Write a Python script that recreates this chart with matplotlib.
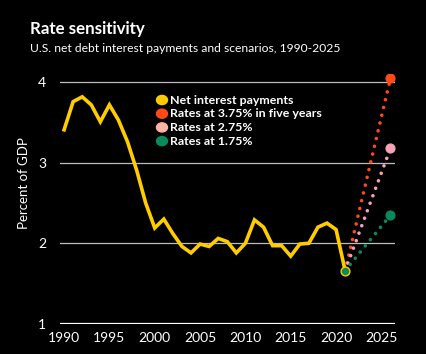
import matplotlib
matplotlib.use("Agg")
import matplotlib.pyplot as plt

# net interest payments, % of GDP
years = list(range(1990, 2022))
net_interest = [3.41, 3.76, 3.82, 3.72, 3.51, 3.72, 3.53, 3.26, 2.91, 2.50,
                2.19, 2.30, 2.12, 1.96, 1.88, 1.99, 1.96, 2.06, 2.02, 1.88,
                2.00, 2.29, 2.20, 1.97, 1.97, 1.84, 1.99, 2.00, 2.20, 2.25,
                2.17, 1.66]

scen_years = [2021, 2026]
scen_labels = ["Rates at 3.75% in five years", "Rates at 2.75%", "Rates at 1.75%"]
scen_values = [[1.66, 4.05], [1.66, 3.18], [1.66, 2.35]]
scen_colors = ["#ff4a17", "#f7a1b9", "#0a8a5c"]
legend_colors = ["#ffcc00", "#ff4a17", "#fbb3a3", "#0a8a5c"]

FONT = "Lato"
W, H = 426, 354
fig = plt.figure(figsize=(W / 100, H / 100), dpi=100, facecolor="black")
ax = fig.add_axes([60 / W, 1 - 323.7 / H, (395 - 60) / W, (323.7 - 74.3) / H])
ax.set_facecolor("black")
ax.set_xlim(1989.55, 2026.5)
ax.set_ylim(1, 4.1)

for v in [2, 3, 4]:
    ax.axhline(v, color="#bdbdbd", lw=0.9, zorder=1)
ax.axhline(1, color="white", lw=1.6, zorder=1)

for vals, c in zip(scen_values, scen_colors):
    ax.plot(scen_years, vals, color=c, lw=2.6, ls=(0, (0.01, 2.2)),
            dash_capstyle="round", zorder=3)
    ax.scatter(scen_years[-1:], vals[-1:], s=40, color=c, zorder=4)

ax.plot(years, net_interest, color="#ffcc00", lw=2.6, solid_joinstyle="miter", zorder=5)
ax.scatter(years[-1:], net_interest[-1:], s=40, color="#0a8a5c",
           edgecolor="#ffcc00", linewidth=1, zorder=6)

for s in ax.spines.values():
    s.set_visible(False)
ax.set_yticks([1, 2, 3, 4])
ax.set_xticks(range(1990, 2026, 5))
ax.tick_params(length=0, colors="white", labelsize=10, pad=6)
ax.tick_params(axis="y", pad=10)
for lab in ax.get_xticklabels() + ax.get_yticklabels():
    lab.set_fontfamily(FONT)
ax.set_ylabel("Percent of GDP", color="white", fontsize=9.5, family=FONT)
ax.yaxis.set_label_coords(-0.09, 0.564)

# legend
legend_labels = ["Net interest payments"] + scen_labels
for i, (lab, c) in enumerate(zip(legend_labels, legend_colors)):
    y = 1 - (100 + i * 13.7) / H
    fig.patches.append(plt.Circle((162 / W, y), 5.5 / W, color=c, transform=fig.transFigure,
                                  figure=fig))
    fig.text(170 / W, y, lab, color="white", fontsize=8.9, fontweight="bold",
             family=FONT, va="center", ha="left")

fig.text(30 / W, 1 - 34 / H, "Rate sensitivity", color="white", fontsize=12.2,
         fontweight="bold", family=FONT, va="baseline")
fig.text(30 / W, 1 - 52 / H, "U.S. net debt interest payments and scenarios, 1990-2025",
         color="white", fontsize=8.75, family=FONT, va="baseline")

fig.savefig("out.png", dpi=100, facecolor="black")
